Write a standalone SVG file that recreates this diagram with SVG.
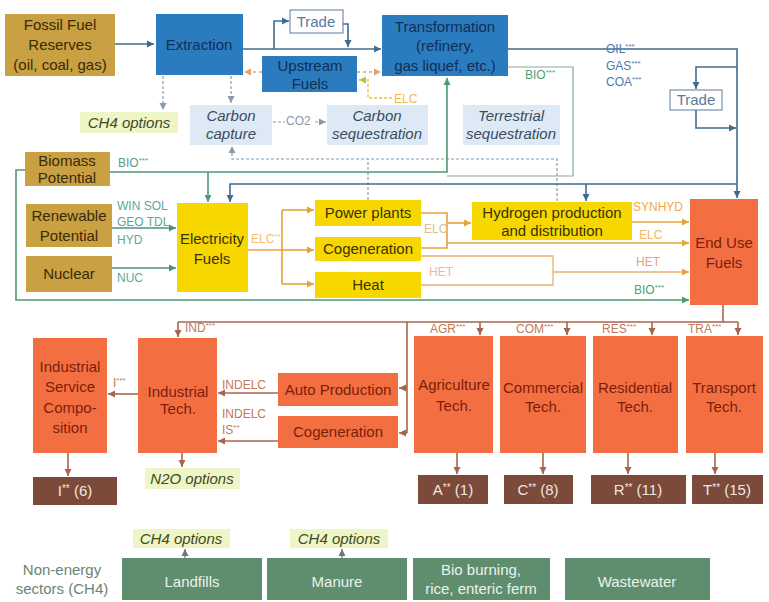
<svg xmlns="http://www.w3.org/2000/svg" width="769" height="602" viewBox="0 0 769 602">
<defs>
<marker id="aBlue" markerUnits="userSpaceOnUse" markerWidth="8" markerHeight="8" refX="7" refY="4" orient="auto"><path d="M0,0.5 L7,4 L0,7.5 z" fill="#3F6C8E"/></marker>
<marker id="aGray" markerUnits="userSpaceOnUse" markerWidth="8" markerHeight="8" refX="7" refY="4" orient="auto"><path d="M0,0.5 L7,4 L0,7.5 z" fill="#8A9AA8"/></marker>
<marker id="aGreen" markerUnits="userSpaceOnUse" markerWidth="8" markerHeight="8" refX="7" refY="4" orient="auto"><path d="M0,0.5 L7,4 L0,7.5 z" fill="#4F9A72"/></marker>
<marker id="aTeal" markerUnits="userSpaceOnUse" markerWidth="8" markerHeight="8" refX="7" refY="4" orient="auto"><path d="M0,0.5 L7,4 L0,7.5 z" fill="#4E8F80"/></marker>
<marker id="aOrange" markerUnits="userSpaceOnUse" markerWidth="8" markerHeight="8" refX="7" refY="4" orient="auto"><path d="M0,0.5 L7,4 L0,7.5 z" fill="#E6A23C"/></marker>
<marker id="aBrown" markerUnits="userSpaceOnUse" markerWidth="8" markerHeight="8" refX="7" refY="4" orient="auto"><path d="M0,0.5 L7,4 L0,7.5 z" fill="#A8644C"/></marker>
<marker id="aPeach" markerUnits="userSpaceOnUse" markerWidth="8" markerHeight="8" refX="7" refY="4" orient="auto"><path d="M0,0.5 L7,4 L0,7.5 z" fill="#E8A070"/></marker>
<marker id="aYel" markerUnits="userSpaceOnUse" markerWidth="8" markerHeight="8" refX="7" refY="4" orient="auto"><path d="M0,0.5 L7,4 L0,7.5 z" fill="#B8C040"/></marker>
<marker id="aDark" markerUnits="userSpaceOnUse" markerWidth="8" markerHeight="8" refX="7" refY="4" orient="auto"><path d="M0,0.5 L7,4 L0,7.5 z" fill="#6A7A70"/></marker>
</defs>
<style>
text{font-family:"Liberation Sans",Arial,Helvetica,sans-serif}
.n{font-size:15px;text-anchor:middle}
.gold{fill:#C9A042}
.goldt{fill:#3A2A0A}
.blue{fill:#2B7BBF}
.bluet{fill:#102F55}
.lb{fill:#DDEAF6}
.lbt{fill:#3A4A5E;font-style:italic}
.yel{fill:#F6D800}
.yelt{fill:#3A3200}
.org{fill:#F36F42}
.orgt{fill:#7A1E0A}
.brn{fill:#7B4A3A}
.brnt{fill:#F3E6DE}
.grn{fill:#5F8E6E}
.grnt{fill:#EAF2EC}
.opt{fill:#EEF5C6}
.optt{fill:#3E4A1E;font-style:italic}
.trade{fill:#fff;stroke:#5A7A9A;stroke-width:1}
.lbl{font-size:12px}
.ln{fill:none;stroke-width:1.6}
.fb{stroke:#3F6C8E}
.dg{stroke:#8A9AA8;stroke-dasharray:3,2;stroke-width:1.2}
.gr{stroke:#4F9A72}
.te{stroke:#4E8F80}
.or{stroke:#E6A23C}
.br{stroke:#A8644C}
.pe{stroke:#E8A070;stroke-dasharray:3,3;stroke-width:1.3}
.ye{stroke:#E8C040;stroke-dasharray:3,2;stroke-width:1.3}
.dk{stroke:#6A7A70;stroke-width:1.2}
</style>
<rect width="769" height="602" fill="#ffffff"/>

<g id="connectors">
<path class="ln fb" d="M115,44 H154" marker-end="url(#aBlue)"/>
<path class="ln fb" d="M242,49 H381" marker-end="url(#aBlue)"/>
<path class="ln fb" d="M274,49 V21 H289" marker-end="url(#aBlue)"/>
<path class="ln fb" d="M343,24 H348 V47" marker-end="url(#aBlue)"/>
<path class="ln pe" d="M262,72 H244" marker-end="url(#aPeach)"/>
<path class="ln pe" d="M357,72 H381" marker-end="url(#aPeach)"/>
<path class="ln ye" d="M392,98 H368 V80 H359" marker-end="url(#aYel)"/>
<path class="ln dg" d="M163,76 V110" marker-end="url(#aGray)"/>
<path class="ln dg" d="M231,76 V103" marker-end="url(#aGray)"/>
<path class="ln dg" d="M273,122 H285"/>
<path class="ln dg" d="M315,122 H326" marker-end="url(#aGray)"/>
<path class="ln dg" d="M557,201 V159 H232 V146" marker-end="url(#aGray)"/>
<path class="ln dg" d="M368,200 V159"/>
<path class="ln fb" d="M508,49 H737 V198" marker-end="url(#aBlue)"/>
<path class="ln fb" d="M737,67 H696 V89" marker-end="url(#aBlue)"/>
<path class="ln fb" d="M696,110 V128 H736" marker-end="url(#aBlue)"/>
<path class="ln fb" d="M737,184 H230 V202" marker-end="url(#aBlue)"/>
<path class="ln fb" d="M586,184 V201" marker-end="url(#aBlue)"/>
<path class="ln gr" style="stroke:#8AAA98;stroke-width:1.2" d="M508,67 H573 V176 H447"/>
<path class="ln gr" d="M110,172 H447 V78" marker-end="url(#aGreen)"/>
<path class="ln gr" d="M208,172 V202" marker-end="url(#aGreen)"/>
<path class="ln gr" d="M25,170 H16 V300 H689" marker-end="url(#aGreen)"/>
<path class="ln te" d="M112,228 H176" marker-end="url(#aTeal)"/>
<path class="ln te" d="M112,268 H176" marker-end="url(#aTeal)"/>
<path class="ln or" d="M248,250 H282"/>
<path class="ln or" d="M282,210 V284"/>
<path class="ln or" d="M282,210 H314" marker-end="url(#aOrange)"/>
<path class="ln or" d="M282,250 H314" marker-end="url(#aOrange)"/>
<path class="ln or" d="M282,284 H314" marker-end="url(#aOrange)"/>
<path class="ln or" d="M421,213 H447 V248 H421"/>
<path class="ln or" d="M447,223 H471" marker-end="url(#aOrange)"/>
<path class="ln or" d="M447,243 H689" marker-end="url(#aOrange)"/>
<path class="ln or" d="M632,222 H689" marker-end="url(#aOrange)"/>
<path class="ln or" style="stroke:#E8B070;stroke-width:1.3" d="M421,256 H553 V285 H421"/>
<path class="ln or" style="stroke:#E8B070;stroke-width:1.3" d="M553,272 H689" marker-end="url(#aOrange)"/>
<path class="ln br" d="M723,305 V322"/>
<path class="ln br" d="M178,322 H738"/>
<path class="ln br" d="M178,322 V337" marker-end="url(#aBrown)"/>
<path class="ln br" d="M480,322 V335" marker-end="url(#aBrown)"/>
<path class="ln br" d="M567,322 V335" marker-end="url(#aBrown)"/>
<path class="ln br" d="M652,322 V335" marker-end="url(#aBrown)"/>
<path class="ln br" d="M738,322 V335" marker-end="url(#aBrown)"/>
<path class="ln br" d="M407,322 V433"/>
<path class="ln br" d="M407,388 H399" marker-end="url(#aBrown)"/>
<path class="ln br" d="M407,433 H399" marker-end="url(#aBrown)"/>
<path class="ln br" d="M278,393 H218" marker-end="url(#aBrown)"/>
<path class="ln br" d="M278,441 H218" marker-end="url(#aBrown)"/>
<path class="ln br" d="M138,394 H108" marker-end="url(#aBrown)"/>
<path class="ln br" d="M68,453 V476" marker-end="url(#aBrown)"/>
<path class="ln br" d="M182,453 V467" marker-end="url(#aBrown)"/>
<path class="ln br" d="M457,453 V474" marker-end="url(#aBrown)"/>
<path class="ln br" d="M543,453 V474" marker-end="url(#aBrown)"/>
<path class="ln br" d="M628,453 V474" marker-end="url(#aBrown)"/>
<path class="ln br" d="M715,453 V474" marker-end="url(#aBrown)"/>
<path class="ln dk" d="M185,558 V549" marker-end="url(#aDark)"/>
<path class="ln dk" d="M342,558 V549" marker-end="url(#aDark)"/>

<text class="lbl" x="286" y="125" fill="#8A9AA8">CO2</text>
<text class="lbl" x="394" y="103" fill="#F0B850">ELC</text>
<text class="lbl" x="606" y="53" fill="#4A7AB0">OIL<tspan font-size="8" dy="-4">***</tspan></text>
<text class="lbl" x="606" y="70" fill="#4A7AB0">GAS<tspan font-size="8" dy="-4">***</tspan></text>
<text class="lbl" x="606" y="86" fill="#4A7AB0">COA<tspan font-size="8" dy="-4">***</tspan></text>
<text class="lbl" x="525" y="79" fill="#4FA070">BIO<tspan font-size="8" dy="-4">***</tspan></text>
<text class="lbl" x="118" y="167" fill="#4FA090">BIO<tspan font-size="8" dy="-4">***</tspan></text>
<text class="lbl" x="117" y="210" fill="#5BA79B">WIN SOL</text>
<text class="lbl" x="117" y="226" fill="#5BA79B">GEO TDL</text>
<text class="lbl" x="117" y="244" fill="#5BA79B">HYD</text>
<text class="lbl" x="117" y="282" fill="#5BA79B">NUC</text>
<text class="lbl" x="251" y="243" fill="#F2C070">ELC<tspan font-size="8" dy="-4">***</tspan></text>
<text class="lbl" x="424" y="233" fill="#E0C090">ELC</text>
<text class="lbl" x="633" y="211" fill="#F0A848">SYNHYD</text>
<text class="lbl" x="639" y="239" fill="#F0B860">ELC</text>
<text class="lbl" x="429" y="276" fill="#F0B890">HET</text>
<text class="lbl" x="636" y="266" fill="#E8A070">HET</text>
<text class="lbl" x="634" y="294" fill="#4FA070">BIO<tspan font-size="8" dy="-4">***</tspan></text>
<text class="lbl" x="185" y="332" fill="#C07A5A">IND<tspan font-size="8" dy="-4">***</tspan></text>
<text class="lbl" x="430" y="333" fill="#C07A5A">AGR<tspan font-size="8" dy="-4">***</tspan></text>
<text class="lbl" x="516" y="333" fill="#C07A5A">COM<tspan font-size="8" dy="-4">***</tspan></text>
<text class="lbl" x="602" y="333" fill="#C07A5A">RES<tspan font-size="8" dy="-4">***</tspan></text>
<text class="lbl" x="688" y="333" fill="#C07A5A">TRA<tspan font-size="8" dy="-4">***</tspan></text>
<text class="lbl" x="113" y="387" fill="#C07A5A">I<tspan font-size="8" dy="-4">***</tspan></text>
<text class="lbl" x="222" y="389" fill="#C07A5A">INDELC</text>
<text class="lbl" x="222" y="418" fill="#C07A5A">INDELC</text>
<text class="lbl" x="222" y="434" fill="#C07A5A">IS<tspan font-size="8" dy="-4">**</tspan></text>
</g>

<g id="fossil"><rect class="gold" x="5" y="14" width="110" height="62"/><text class="n goldt" x="60" y="30">Fossil Fuel</text><text class="n goldt" x="60" y="50">Reserves</text><text class="n goldt" x="60" y="70">(oil, coal, gas)</text></g>
<g id="extraction"><rect class="blue" x="156" y="14" width="87" height="61"/><text class="n bluet" x="199" y="50">Extraction</text></g>
<g id="trade1"><rect class="trade" x="290" y="10" width="53" height="23"/><text class="n" fill="#5A7A9A" x="316" y="27">Trade</text></g>
<g id="transformation"><rect class="blue" x="382" y="15" width="126" height="61"/><text class="n bluet" x="445" y="32">Transformation</text><text class="n bluet" x="445" y="51">(refinery,</text><text class="n bluet" x="445" y="71">gas liquef, etc.)</text></g>
<g id="upstream"><rect class="blue" x="262" y="56" width="95" height="36"/><text class="n bluet" x="310" y="71">Upstream</text><text class="n bluet" x="310" y="89">Fuels</text></g>
<g id="ch4top"><rect class="opt" x="80" y="112" width="98" height="21"/><text class="n optt" x="129" y="128">CH4 options</text></g>
<g id="capture"><rect class="lb" x="190" y="105" width="82" height="40"/><text class="n lbt" x="231" y="121">Carbon</text><text class="n lbt" x="231" y="139">capture</text></g>
<g id="sequestration"><rect class="lb" x="327" y="105" width="101" height="40"/><text class="n lbt" x="377" y="121">Carbon</text><text class="n lbt" x="377" y="139">sequestration</text></g>
<g id="terrestrial"><rect class="lb" x="463" y="105" width="97" height="40"/><text class="n lbt" x="511" y="121">Terrestrial</text><text class="n lbt" x="511" y="139">sequestration</text></g>
<g id="trade2"><rect class="trade" x="670" y="90" width="52" height="20"/><text class="n" fill="#5A7A9A" x="696" y="105">Trade</text></g>
<g id="biomass"><rect class="gold" x="25" y="152" width="85" height="34"/><text class="n goldt" x="67" y="166">Biomass</text><text class="n goldt" x="67" y="183">Potential</text></g>
<g id="renewable"><rect class="gold" x="26" y="204" width="86" height="43"/><text class="n goldt" x="69" y="221">Renewable</text><text class="n goldt" x="69" y="241">Potential</text></g>
<g id="nuclear"><rect class="gold" x="26" y="256" width="86" height="36"/><text class="n goldt" x="69" y="279">Nuclear</text></g>
<g id="elecfuels"><rect class="yel" x="177" y="203" width="71" height="89"/><text class="n yelt" x="212" y="244">Electricity</text><text class="n yelt" x="212" y="264">Fuels</text></g>
<g id="powerplants"><rect class="yel" x="315" y="200" width="106" height="26"/><text class="n yelt" x="368" y="218">Power plants</text></g>
<g id="cogen1"><rect class="yel" x="315" y="237" width="106" height="24"/><text class="n yelt" x="368" y="254">Cogeneration</text></g>
<g id="heat"><rect class="yel" x="315" y="272" width="106" height="26"/><text class="n yelt" x="368" y="290">Heat</text></g>
<g id="hydrogen"><rect class="yel" x="472" y="202" width="160" height="38"/><text class="n yelt" x="552" y="218">Hydrogen production</text><text class="n yelt" x="552" y="236">and distribution</text></g>
<g id="enduse"><rect class="org" x="690" y="199" width="68" height="106"/><text class="n orgt" x="724" y="248">End Use</text><text class="n orgt" x="724" y="268">Fuels</text></g>
<g id="isc"><rect class="org" x="33" y="338" width="74" height="115"/><text class="n orgt" x="70" y="372">Industrial</text><text class="n orgt" x="70" y="392">Service</text><text class="n orgt" x="70" y="413">Compo-</text><text class="n orgt" x="70" y="433">sition</text></g>
<g id="indtech"><rect class="org" x="138" y="338" width="79" height="115"/><text class="n orgt" x="178" y="397">Industrial</text><text class="n orgt" x="178" y="414">Tech.</text></g>
<g id="autoprod"><rect class="org" x="278" y="373" width="120" height="33"/><text class="n orgt" x="338" y="395">Auto Production</text></g>
<g id="cogen2"><rect class="org" x="278" y="416" width="120" height="32"/><text class="n orgt" x="338" y="437">Cogeneration</text></g>
<g id="agri"><rect class="org" x="414" y="336" width="79" height="117"/><text class="n orgt" x="454" y="390">Agriculture</text><text class="n orgt" x="454" y="411">Tech.</text></g>
<g id="comm"><rect class="org" x="500" y="336" width="86" height="117"/><text class="n orgt" x="543" y="393">Commercial</text><text class="n orgt" x="543" y="412">Tech.</text></g>
<g id="resi"><rect class="org" x="593" y="336" width="85" height="117"/><text class="n orgt" x="635" y="393">Residential</text><text class="n orgt" x="635" y="412">Tech.</text></g>
<g id="trans"><rect class="org" x="686" y="336" width="77" height="117"/><text class="n orgt" x="724" y="393">Transport</text><text class="n orgt" x="724" y="412">Tech.</text></g>
<g id="iout"><rect class="brn" x="33" y="477" width="84" height="28"/><text class="n brnt" x="75" y="496">I<tspan font-size="10" dy="-4">**</tspan><tspan dy="4"> (6)</tspan></text></g>
<g id="n2o"><rect class="opt" x="145" y="468" width="95" height="21"/><text class="n optt" x="192" y="484">N2O options</text></g>
<g id="aout"><rect class="brn" x="418" y="475" width="70" height="29"/><text class="n brnt" x="453" y="495">A<tspan font-size="10" dy="-4">**</tspan><tspan dy="4"> (1)</tspan></text></g>
<g id="cout"><rect class="brn" x="504" y="475" width="69" height="29"/><text class="n brnt" x="538" y="495">C<tspan font-size="10" dy="-4">**</tspan><tspan dy="4"> (8)</tspan></text></g>
<g id="rout"><rect class="brn" x="591" y="475" width="95" height="29"/><text class="n brnt" x="638" y="495">R<tspan font-size="10" dy="-4">**</tspan><tspan dy="4"> (11)</tspan></text></g>
<g id="tout"><rect class="brn" x="692" y="475" width="71" height="29"/><text class="n brnt" x="727" y="495">T<tspan font-size="10" dy="-4">**</tspan><tspan dy="4"> (15)</tspan></text></g>
<g id="nonenergy"><text class="n" fill="#6A8575" x="62" y="575">Non-energy</text><text class="n" fill="#6A8575" x="62" y="594">sectors (CH4)</text></g>
<g id="ch4a"><rect class="opt" x="133" y="529" width="97" height="19"/><text class="n optt" x="181" y="544">CH4 options</text></g>
<g id="ch4b"><rect class="opt" x="290" y="529" width="98" height="19"/><text class="n optt" x="339" y="544">CH4 options</text></g>
<g id="landfills"><rect class="grn" x="122" y="558" width="140" height="42"/><text class="n grnt" x="192" y="587">Landfills</text></g>
<g id="manure"><rect class="grn" x="267" y="558" width="140" height="42"/><text class="n grnt" x="337" y="587">Manure</text></g>
<g id="bioburning"><rect class="grn" x="413" y="558" width="137" height="42"/><text class="n grnt" x="481" y="575">Bio burning,</text><text class="n grnt" x="481" y="594">rice, enteric ferm</text></g>
<g id="wastewater"><rect class="grn" x="565" y="558" width="145" height="42"/><text class="n grnt" x="637" y="587">Wastewater</text></g>
</svg>
